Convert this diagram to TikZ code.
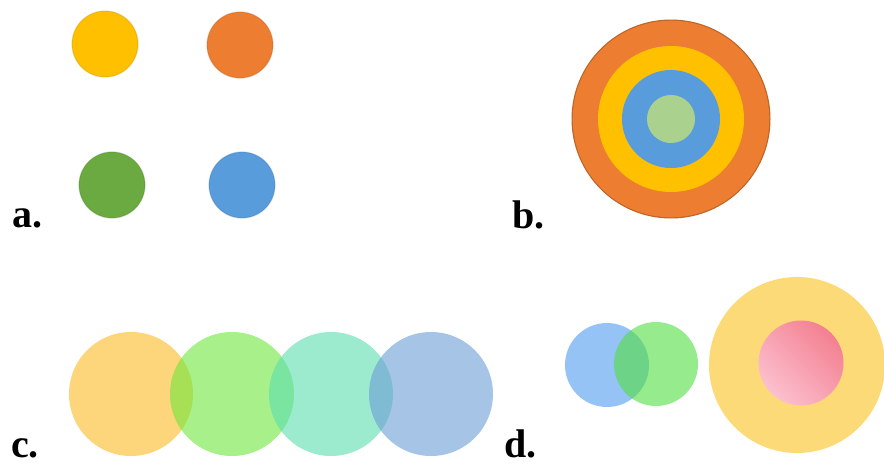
\documentclass[tikz,border=0pt]{standalone}
\usepackage{fontspec}
\setmainfont{Liberation Serif}
\definecolor{aYel}{RGB}{255,192,0}
\definecolor{aOra}{RGB}{237,125,49}
\definecolor{aGre}{RGB}{106,170,64}
\definecolor{aBlu}{RGB}{88,156,220}
\definecolor{bGre}{RGB}{170,210,142}
\definecolor{cYel}{RGB}{252,185,33}
\definecolor{cGre}{RGB}{110,230,60}
\definecolor{cTea}{RGB}{90,222,175}
\definecolor{cBlu}{RGB}{107,157,213}
\definecolor{dBlu}{RGB}{150,195,245}
\definecolor{dGre}{RGB}{80,222,63}
\definecolor{dYel}{RGB}{253,218,120}
\definecolor{pinkL}{RGB}{252,192,207}
\definecolor{pinkD}{RGB}{243,128,145}
\tikzset{
  lbl/.style={font=\bfseries\fontsize{40}{40}\selectfont, anchor=base west, inner sep=0pt},
  ball/.style={circle, minimum size=66pt, inner sep=0pt, fill=#1, draw=#1!75!black, draw opacity=0.3, line width=1.2pt},
  cdisc/.style={fill=#1, fill opacity=0.6},
}
\begin{document}
\begin{tikzpicture}[x=1pt,y=-1pt]
\useasboundingbox (0,0) rectangle (884,464);
% panel a
\node[ball=aYel] (ay) at (105,44) {};
\node[ball=aOra] (ao) at (240,45) {};
\node[ball=aGre] (ag) at (112,185) {};
\node[ball=aBlu] (ab) at (242,185) {};
\node[lbl] (la) at (12,227) {a.};
% panel b
\fill[aOra!80!black] (671,119) circle (99.5);
\fill[aOra] (671,119) circle (98.3);
\fill[aYel] (671,119) circle (73);
\fill[aBlu] (671,119) circle (49);
\fill[bGre] (671,119) circle (24);
\node[lbl] (lb) at (512,228) {b.};
% panel c
\fill[cdisc=cYel] (131,394) circle (62);
\fill[cdisc=cGre] (232,394) circle (62);
\fill[cdisc=cTea] (331,394) circle (62);
\fill[cdisc=cBlu] (431,394) circle (62);
\node[lbl] (lc) at (11,457) {c.};
% panel d
\fill[dBlu] (607,365) circle (42);
\fill[dGre, fill opacity=0.6] (656,364) circle (42);
\fill[dYel] (797,365) circle (88);
\shade[top color=pinkD, bottom color=pinkL, shading angle=-45] (801,363) circle (42.5);
\node[lbl] (ld) at (504,457) {d.};
\end{tikzpicture}
\end{document}
